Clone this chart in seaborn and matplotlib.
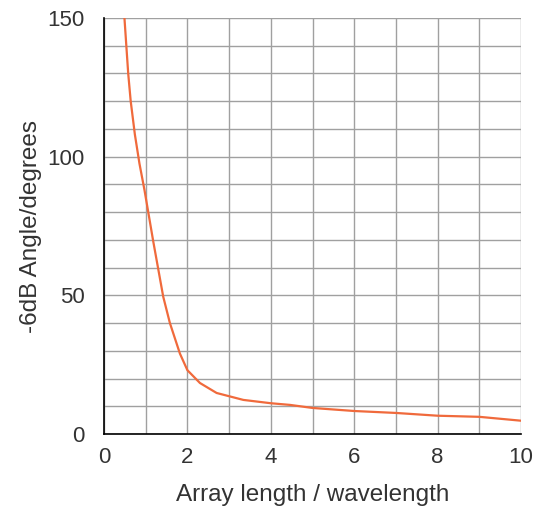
import matplotlib
matplotlib.use("Agg")
import matplotlib.pyplot as plt
import seaborn as sns
import pandas as pd
from matplotlib.ticker import MultipleLocator

array_length = [0.49, 0.58, 0.64, 0.74, 0.85, 0.97, 1.18, 1.42, 1.58, 1.82, 2.0, 2.3, 2.7, 3.34, 4.0, 4.46, 5, 6, 7, 8, 9, 10]
angle_deg = [150, 130, 120, 108, 97.5, 88, 69.5, 49.5, 40, 29, 23, 18.4, 14.8, 12.3, 11.1, 10.5, 9.4, 8.3, 7.6, 6.6, 6.2, 4.8]
x_ticks = [0, 2, 4, 6, 8, 10]
y_ticks = [0, 50, 100, 150]

sns.set_style("white")
plt.rcParams['font.family'] = ['Liberation Sans', 'DejaVu Sans']

df = pd.DataFrame({"x": array_length, "y": angle_deg})

fig = plt.figure(figsize=(5.37, 5.12), dpi=100)
ax = fig.add_axes([0.1937, 0.1523, 0.7766, 0.8125])
sns.lineplot(data=df, x="x", y="y", ax=ax, color="#f06a3c", linewidth=1.6)

ax.set_xlim(0, 10)
ax.set_ylim(0, 150)
ax.set_xticks(x_ticks)
ax.set_yticks(y_ticks)
ax.xaxis.set_minor_locator(MultipleLocator(1))
ax.yaxis.set_minor_locator(MultipleLocator(10))
ax.grid(True, which="both", color="#a0a0a0", linewidth=1.0)
ax.set_axisbelow(True)
for s in ["top", "right"]:
    ax.spines[s].set_visible(False)
for s in ["left", "bottom"]:
    ax.spines[s].set_color("black")
    ax.spines[s].set_linewidth(1.2)
ax.tick_params(axis="both", which="both", direction="in", length=5, color="black", width=1.2,
               labelsize=16, labelcolor="#333333")
ax.tick_params(axis="x", which="both", pad=9)
ax.tick_params(axis="y", which="both", pad=14)
ax.set_xlabel("Array length / wavelength", fontsize=17.5, color="#333333", labelpad=12)
ax.set_ylabel("-6dB Angle/degrees", fontsize=17.5, color="#333333", labelpad=4)

fig.savefig("out.png", dpi=100)
